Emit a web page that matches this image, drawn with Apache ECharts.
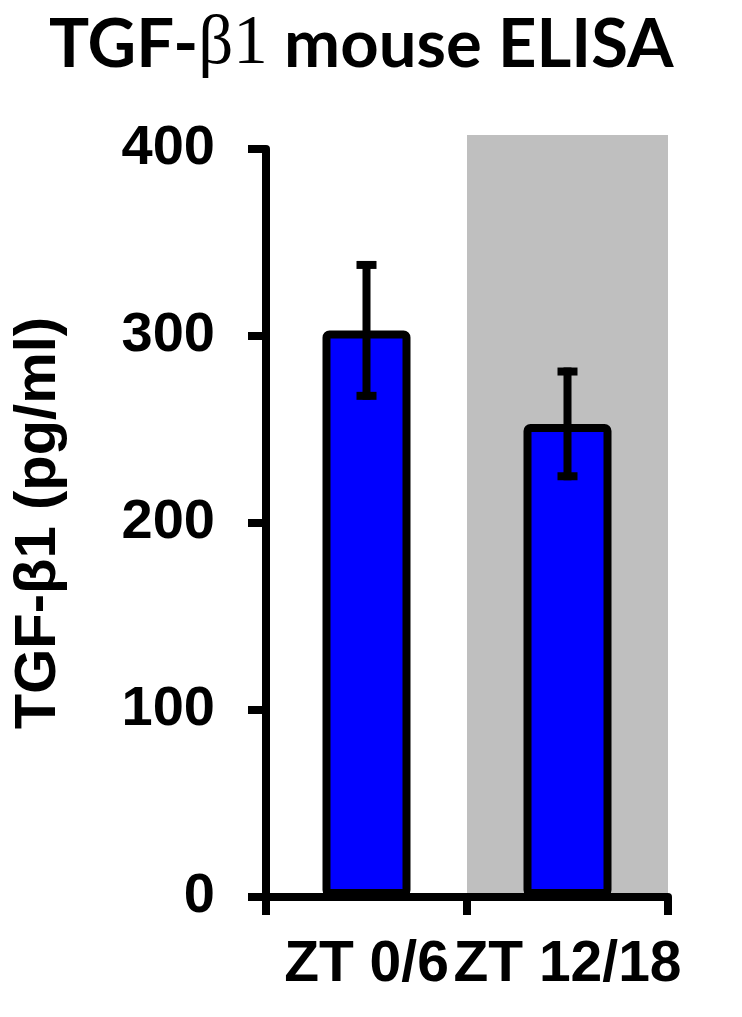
<!DOCTYPE html>
<html>
<head>
<meta charset="utf-8">
<script src="https://cdn.jsdelivr.net/npm/echarts@6/dist/echarts.min.js"></script>
<style>
html,body{margin:0;padding:0;background:#fff;}
#chart{width:742px;height:1017px;}
</style>
</head>
<body>
<div id="chart"></div>
<script>
var categories = ['ZT 0/6', 'ZT 12/18'];
var means = [303, 253];
var errors = [35, 28];
var yTicks = [0, 100, 200, 300, 400];

var chart = echarts.init(document.getElementById('chart'), null, {renderer: 'canvas'});
var FONT = 'Liberation Sans';

var option = {
  backgroundColor: '#ffffff',
  animation: false,
  title: {
    left: 44,
    top: 0,
    text: '{a|TGF-}{b|β1}{a| mouse ELISA}',
    textStyle: {
      rich: {
        a: {fontFamily: 'Lato', fontWeight: 'bold', fontSize: 67, color: '#000', lineHeight: 80},
        b: {fontFamily: 'Liberation Serif', fontWeight: 'normal', fontSize: 69, color: '#000', lineHeight: 80}
      }
    }
  },
  grid: [
    {left: 266, right: 74, top: 135, bottom: 120, containLabel: false},
    {left: 266, right: 74, top: 149, bottom: 120, containLabel: false}
  ],
  xAxis: [
    {
      gridIndex: 0, type: 'category', data: categories, z: 0,
      axisLine: {show: false}, axisTick: {show: false}, axisLabel: {show: false},
      splitLine: {show: false},
      splitArea: {show: true, interval: 0, areaStyle: {color: ['rgba(0,0,0,0)', '#bfbfbf']}}
    },
    {
      gridIndex: 1, type: 'category', data: categories, z: 3,
      axisLine: {show: true, lineStyle: {color: '#000', width: 8}},
      axisTick: {show: true, length: 18, inside: false, alignWithLabel: false, lineStyle: {color: '#000', width: 8}},
      axisLabel: {interval: 0, margin: 40, color: '#000', fontFamily: FONT, fontWeight: 'bold', fontSize: 57},
      splitLine: {show: false}
    }
  ],
  yAxis: [
    {gridIndex: 0, type: 'value', min: 0, max: 1, show: false},
    {
      gridIndex: 1, type: 'value', min: yTicks[0], max: yTicks[yTicks.length - 1], interval: 100, z: 3,
      name: 'TGF-β1 (pg/ml)', nameLocation: 'middle', nameGap: 198,
      nameTextStyle: {color: '#000', fontFamily: FONT, fontWeight: 'bold', fontSize: 58},
      axisLine: {show: true, lineStyle: {color: '#000', width: 8}},
      axisTick: {show: true, length: 18, inside: false, lineStyle: {color: '#000', width: 8}},
      axisLabel: {margin: 51, color: '#000', fontFamily: FONT, fontWeight: 'bold', fontSize: 56},
      splitLine: {show: false}
    }
  ],
  series: [
    {
      type: 'bar', xAxisIndex: 1, yAxisIndex: 1, data: means, barWidth: 88, z: 2,
      itemStyle: {color: '#0000ff', borderColor: '#000', borderWidth: 8, borderRadius: 3}
    },
    {
      type: 'custom', xAxisIndex: 1, yAxisIndex: 1, z: 4,
      data: categories.map(function (c, i) { return [i, means[i], errors[i]]; }),
      renderItem: function (params, api) {
        var x = api.value(0), m = api.value(1), e = api.value(2);
        var top = api.coord([x, m + e]);
        var bot = api.coord([x, m - e]);
        var hw = 10;
        var st = {stroke: '#000', lineWidth: 8};
        return {
          type: 'group',
          children: [
            {type: 'line', shape: {x1: top[0], y1: top[1] - 4, x2: bot[0], y2: bot[1] + 4}, style: st},
            {type: 'line', shape: {x1: top[0] - hw, y1: top[1], x2: top[0] + hw, y2: top[1]}, style: st},
            {type: 'line', shape: {x1: bot[0] - hw, y1: bot[1], x2: bot[0] + hw, y2: bot[1]}, style: st}
          ]
        };
      }
    }
  ]
};
chart.setOption(option);
</script>
</body>
</html>
